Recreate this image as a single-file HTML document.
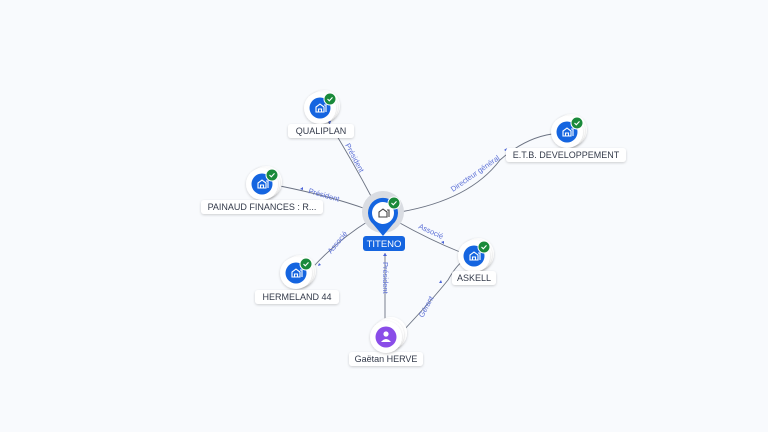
<!DOCTYPE html>
<html><head><style>
body{margin:0;background:#f8fafd;width:768px;height:432px;overflow:hidden}
svg{display:block}
text{font-family:"Liberation Sans",sans-serif}
.lbl{font-size:9px;fill:#333a4a;text-anchor:middle}
.el{font-size:7.5px;fill:#5b6fd6}
</style></head><body>
<svg width="768" height="432" viewBox="0 0 768 432">
<defs>
<filter id="sh" x="-50%" y="-50%" width="200%" height="200%"><feDropShadow dx="0" dy="1" stdDeviation="1.2" flood-color="#000" flood-opacity="0.18"/></filter>
<g id="bld"><path d="M-4,4 V-1 L0,-4 L4,-1 V4 Z M-1.5,4 V1 H1.5 V4 M4,-3 H6 V4" fill="none" stroke="#fff" stroke-width="1.1"/></g>
<g id="co">
<circle cx="4" cy="-2" r="16" fill="#fff" filter="url(#sh)"/>
<circle cx="2" cy="-1" r="16" fill="#fff" filter="url(#sh)"/>
<circle r="16" fill="#fff" filter="url(#sh)"/>
<circle r="10.5" fill="#1565e0"/>
<use href="#bld"/>
<circle cx="10" cy="-9" r="6" fill="#1a8a3a" stroke="#fff" stroke-width="1"/>
<path d="M7.5,-9 L9.3,-7.2 L12.5,-10.6" fill="none" stroke="#fff" stroke-width="1.1"/>
</g>
</defs>
<g fill="none" stroke="#6b7282" stroke-width="0.9">
<path d="M372,198 Q352,160 326,118"/>
<path d="M366,209 Q330,196 280,186"/>
<path d="M370,220 Q338,240 314,266"/>
<path d="M400,212 Q470,200 500,160 Q525,138 552,134"/>
<path d="M398,222 Q430,240 460,252"/>
<path d="M385,322 V253"/>
<path d="M402,332 Q432,300 448,280 Q456,266 462,262"/>
</g>
<g fill="#4a63d8">
<path d="M330,124 l-2,-3 l3,0z"/>
<path d="M300,189 l3,-2 l0,3z"/>
<path d="M318,266 l1,-3 l2,2z"/>
<path d="M504,150 l3,-2 l-1,3z"/>
<path d="M444,244 l-3,-2 l3,-1z"/>
<path d="M385,253 l-2,3 l4,0z"/>
<path d="M439,283 l2,-3 l1,3z"/>
</g>
<text class="el" transform="translate(345,145) rotate(62)">Président</text>
<text class="el" transform="translate(308,193) rotate(16)">Président</text>
<text class="el" transform="translate(331,254) rotate(-50)">Associé</text>
<text class="el" transform="translate(453,192) rotate(-35)">Directeur général</text>
<text class="el" transform="translate(418,228) rotate(25)">Associé</text>
<text class="el" transform="translate(383,262) rotate(90)">Président</text>
<text class="el" transform="translate(423,318) rotate(-62)">Gérant</text>
<use href="#co" x="320" y="108"/>
<use href="#co" x="262" y="184"/>
<use href="#co" x="296" y="273"/>
<use href="#co" x="567" y="132"/>
<use href="#co" x="474" y="256"/>
<g filter="url(#sh)">
<rect x="288" y="124" width="66" height="14" rx="3" fill="#fff"/>
<rect x="201" y="200" width="122" height="14" rx="3" fill="#fff"/>
<rect x="255" y="290" width="84" height="14" rx="3" fill="#fff"/>
<rect x="506" y="148" width="120" height="14" rx="3" fill="#fff"/>
<rect x="452" y="271" width="44" height="14" rx="3" fill="#fff"/>
<rect x="349" y="352" width="74" height="14" rx="3" fill="#fff"/>
</g>
<text class="lbl" x="321" y="134">QUALIPLAN</text>
<text class="lbl" x="262" y="210">PAINAUD FINANCES : R...</text>
<text class="lbl" x="297" y="300">HERMELAND 44</text>
<text class="lbl" x="566" y="158">E.T.B. DEVELOPPEMENT</text>
<text class="lbl" x="474" y="281">ASKELL</text>
<text class="lbl" x="386" y="362">Gaëtan HERVE</text>
<circle cx="391" cy="333" r="16" fill="#fff" filter="url(#sh)"/>
<circle cx="388" cy="335" r="16" fill="#fff" filter="url(#sh)"/>
<circle cx="386" cy="337" r="16" fill="#fff" filter="url(#sh)"/>
<circle cx="386" cy="337" r="10.5" fill="#8a4de8"/>
<circle cx="386" cy="334" r="2.6" fill="#fff"/>
<path d="M381,342 Q386,336 391,342Z" fill="#fff"/>
<circle cx="383" cy="212" r="21" fill="#d9dce2"/>
<path d="M383,236 L373,224 A15,15 0 1 1 393,224 Z" fill="#1565e0"/>
<circle cx="383" cy="213" r="11" fill="#fff"/>
<path d="M379,217 V212 L383,209 L387,212 V217 Z M387,210 H389 V217" fill="none" stroke="#444" stroke-width="1.1"/>
<circle cx="394" cy="203" r="6" fill="#1a8a3a" stroke="#fff" stroke-width="1"/>
<path d="M391.5,203 L393.3,204.8 L396.5,201.4" fill="none" stroke="#fff" stroke-width="1.1"/>
<rect x="363" y="236" width="42" height="15" rx="3" fill="#1565e0"/>
<text x="384" y="247" style="font-size:9.5px;fill:#fff;text-anchor:middle">TITENO</text>
</svg>
</body></html>
